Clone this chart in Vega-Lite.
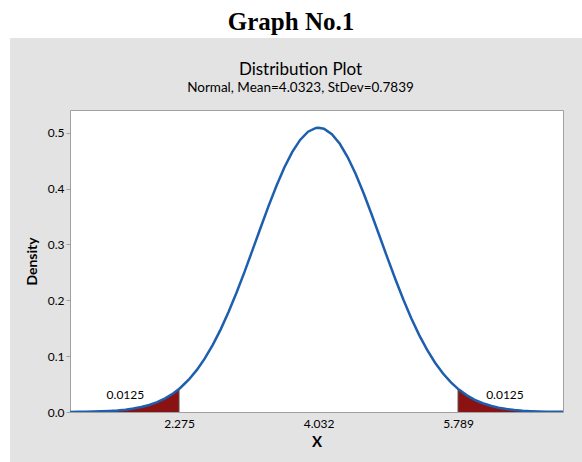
{
  "$schema": "https://vega.github.io/schema/vega-lite/v6.json",
  "padding": 0,
  "background": "#e3e3e3",
  "spacing": 0,
  "datasets": {
    "curve": [
      {"x": 0.902, "density": 0.00018},
      {"x": 1.0, "density": 0.000287},
      {"x": 1.1, "density": 0.000466},
      {"x": 1.2, "density": 0.000745},
      {"x": 1.3, "density": 0.001171},
      {"x": 1.4, "density": 0.001812},
      {"x": 1.5, "density": 0.002759},
      {"x": 1.6, "density": 0.004131},
      {"x": 1.7, "density": 0.006087},
      {"x": 1.8, "density": 0.008827},
      {"x": 1.9, "density": 0.012592},
      {"x": 2.0, "density": 0.017672},
      {"x": 2.1, "density": 0.024392},
      {"x": 2.2, "density": 0.033133},
      {"x": 2.275, "density": 0.041247},
      {"x": 2.3, "density": 0.044275},
      {"x": 2.4, "density": 0.0582},
      {"x": 2.5, "density": 0.075324},
      {"x": 2.6, "density": 0.095869},
      {"x": 2.7, "density": 0.12006},
      {"x": 2.8, "density": 0.14793},
      {"x": 2.9, "density": 0.1793},
      {"x": 3.0, "density": 0.21384},
      {"x": 3.1, "density": 0.2509},
      {"x": 3.2, "density": 0.28965},
      {"x": 3.3, "density": 0.32893},
      {"x": 3.4, "density": 0.36758},
      {"x": 3.5, "density": 0.40412},
      {"x": 3.6, "density": 0.43712},
      {"x": 3.7, "density": 0.4652},
      {"x": 3.8, "density": 0.48705},
      {"x": 3.9, "density": 0.50171},
      {"x": 4.0, "density": 0.50848},
      {"x": 4.0323, "density": 0.50891},
      {"x": 4.1, "density": 0.50702},
      {"x": 4.2, "density": 0.49739},
      {"x": 4.3, "density": 0.48009},
      {"x": 4.4, "density": 0.4559},
      {"x": 4.5, "density": 0.42593},
      {"x": 4.6, "density": 0.39152},
      {"x": 4.7, "density": 0.35407},
      {"x": 4.8, "density": 0.31505},
      {"x": 4.9, "density": 0.2758},
      {"x": 5.0, "density": 0.23753},
      {"x": 5.1, "density": 0.20128},
      {"x": 5.2, "density": 0.16781},
      {"x": 5.3, "density": 0.13765},
      {"x": 5.4, "density": 0.11109},
      {"x": 5.5, "density": 0.08821},
      {"x": 5.6, "density": 0.06889},
      {"x": 5.7, "density": 0.05295},
      {"x": 5.789, "density": 0.04131},
      {"x": 5.8, "density": 0.04004},
      {"x": 5.9, "density": 0.02979},
      {"x": 6.0, "density": 0.0218},
      {"x": 6.1, "density": 0.0157},
      {"x": 6.2, "density": 0.01112},
      {"x": 6.3, "density": 0.007756},
      {"x": 6.4, "density": 0.005318},
      {"x": 6.5, "density": 0.003589},
      {"x": 6.6, "density": 0.002383},
      {"x": 6.7, "density": 0.001555},
      {"x": 6.8, "density": 0.000999},
      {"x": 6.9, "density": 0.000632},
      {"x": 7.0, "density": 0.000393},
      {"x": 7.1, "density": 0.000241},
      {"x": 7.111, "density": 0.000228}
    ],
    "cuts": [
      {"x": 2.275, "density": 0.041247, "base": 0},
      {"x": 5.789, "density": 0.04131, "base": 0}
    ],
    "labels": [
      {"x": 1.6, "density": 0.0305, "text": "0.0125"},
      {"x": 6.38, "density": 0.0305, "text": "0.0125"}
    ],
    "heading": [
      {"text": "Graph No.1"}
    ]
  },
  "hconcat": [
    {
      "width": 10,
      "height": 462,
      "view": {"fill": "white", "stroke": null},
      "data": {"values": []},
      "mark": {"type": "point", "opacity": 0}
    },
    {
      "spacing": 22,
      "vconcat": [
        {
          "width": 572,
          "height": 38,
          "view": {"fill": "white", "stroke": null},
          "data": {"name": "heading"},
          "mark": {"type": "text", "font": "Liberation Serif", "fontSize": 25, "fontWeight": "bold", "baseline": "middle", "align": "center", "dx": -5, "dy": 3, "color": "black"},
          "encoding": {"text": {"field": "text", "type": "nominal"}}
        },
        {
          "spacing": 0,
          "hconcat": [
            {
              "width": 14,
              "height": 1,
              "view": {"fill": null, "stroke": null},
              "data": {"values": []},
              "mark": {"type": "point", "opacity": 0}
            },
            {
              "width": 493,
              "height": 302,
              "view": {"fill": "white", "stroke": "#a0a0a0"},
              "title": {
                "text": "Distribution Plot",
                "subtitle": "Normal, Mean=4.0323, StDev=0.7839",
                "font": "Lato",
                "fontSize": 17,
                "fontWeight": "normal",
                "color": "black",
                "subtitleFont": "Lato",
                "subtitleFontSize": 13.5,
                "subtitleColor": "black",
                "subtitlePadding": 2,
                "anchor": "middle",
                "dx": -16,
                "offset": 15
              },
              "layer": [
                {
                  "data": {"name": "curve"},
                  "transform": [{"filter": "datum.x <= 2.275"}],
                  "mark": {"type": "area", "color": "#8b1212"},
                  "encoding": {
                    "x": {"field": "x", "type": "quantitative"},
                    "y": {"field": "density", "type": "quantitative"}
                  }
                },
                {
                  "data": {"name": "curve"},
                  "transform": [{"filter": "datum.x >= 5.789"}],
                  "mark": {"type": "area", "color": "#8b1212"},
                  "encoding": {
                    "x": {"field": "x", "type": "quantitative"},
                    "y": {"field": "density", "type": "quantitative"}
                  }
                },
                {
                  "data": {"name": "cuts"},
                  "mark": {"type": "rule", "color": "#555555", "strokeWidth": 1},
                  "encoding": {
                    "x": {"field": "x", "type": "quantitative"},
                    "y": {"field": "density", "type": "quantitative"},
                    "y2": {"field": "base"}
                  }
                },
                {
                  "data": {"name": "curve"},
                  "mark": {"type": "line", "color": "#1d5fae", "strokeWidth": 2.5, "clip": true},
                  "encoding": {
                    "x": {
                      "field": "x",
                      "type": "quantitative",
                      "scale": {"domain": [0.902, 7.111], "nice": false, "zero": false},
                      "axis": {
                        "title": "X",
                        "values": [2.275, 4.032, 5.789],
                        "format": ".3f",
                        "grid": false,
                        "ticks": false,
                        "tickSize": 0,
                        "domain": false,
                        "labelFont": "Lato",
                        "labelFontSize": 12,
                        "labelColor": "black",
                        "labelPadding": 6,
                        "titleFont": "Lato",
                        "titleFontSize": 15,
                        "titleFontWeight": "bold",
                        "titleColor": "black",
                        "titlePadding": 5
                      }
                    },
                    "y": {
                      "field": "density",
                      "type": "quantitative",
                      "scale": {"domain": [0, 0.5406], "nice": false},
                      "axis": {
                        "title": "Density",
                        "values": [0, 0.1, 0.2, 0.3, 0.4, 0.5],
                        "format": ".1f",
                        "grid": false,
                        "domain": false,
                        "tickSize": 4,
                        "tickColor": "#a0a0a0",
                        "labelFont": "Lato",
                        "labelFontSize": 12,
                        "labelColor": "black",
                        "labelPadding": 2,
                        "titleFont": "Lato",
                        "titleFontSize": 14,
                        "titleFontWeight": "bold",
                        "titleColor": "black",
                        "titlePadding": 8
                      }
                    }
                  }
                },
                {
                  "data": {"name": "labels"},
                  "mark": {"type": "text", "font": "Lato", "fontSize": 12, "color": "black", "baseline": "middle"},
                  "encoding": {
                    "x": {"field": "x", "type": "quantitative"},
                    "y": {"field": "density", "type": "quantitative"},
                    "text": {"field": "text", "type": "nominal"}
                  }
                }
              ]
            }
          ]
        }
      ]
    }
  ]
}
